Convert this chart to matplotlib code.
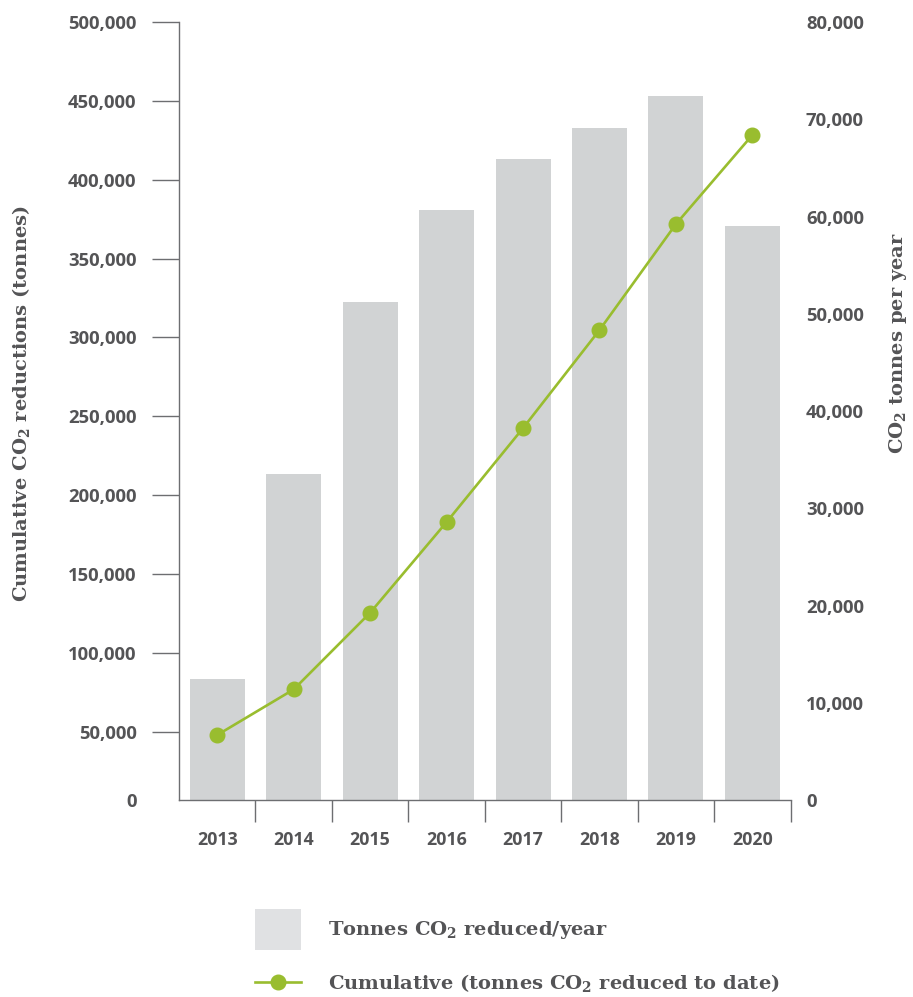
import numpy as np
import matplotlib
matplotlib.use("Agg")
import matplotlib.pyplot as plt
from matplotlib.patches import Patch
from matplotlib.lines import Line2D

# yearly reductions (right axis) and running total (left axis)
years = ["2013", "2014", "2015", "2016", "2017", "2018", "2019", "2020"]
annual_tonnes = [12440, 33570, 51210, 60670, 65960, 69070, 72390, 59050]
cumulative_tonnes = [47900, 76800, 125400, 182900, 242500, 304700, 371900, 428400]

left_ticks = [0, 50000, 100000, 150000, 200000, 250000, 300000, 350000, 400000, 450000, 500000]
right_ticks = [0, 10000, 20000, 30000, 40000, 50000, 60000, 70000, 80000]
left_floor = 6700  # baseline of the cumulative scale sits a little above zero

bar_grey = "#d1d3d4"
legend_grey = "#e0e1e3"
green = "#99bd2f"
text_grey = "#545456"
axis_grey = "#6d6e71"

plt.rcParams["mathtext.default"] = "regular"
tick_font = dict(family="Open Sans", weight="bold", size=13.3)
label_font = dict(family="DejaVu Serif", weight="bold", size=14)

fig = plt.figure(figsize=(9.13, 9.97), dpi=100)
ax = fig.add_axes([0.196, 0.1976, 0.670, 0.7803])
ax2 = ax.twinx()

x = np.arange(len(years))
ax2.bar(x, annual_tonnes, width=0.72, color=bar_grey)
ax.plot(x, cumulative_tonnes, color=green, lw=1.9, marker="o", ms=10.5)

# line above the bars
ax.set_zorder(ax2.get_zorder() + 1)
ax.patch.set_visible(False)

ax.set_xlim(-0.5, 7.5)
ax.set_ylim(left_floor, 500000)
ax2.set_ylim(0, 80000)

ax.set_yticks([left_floor] + left_ticks[1:])
ax.set_yticklabels([f"{v:,}" for v in left_ticks], fontdict=tick_font, color=text_grey)
ax.tick_params(axis="y", length=19.5, width=1, color=axis_grey, pad=11)
ax.yaxis.get_major_ticks()[0].tick1line.set_visible(False)

ax2.set_yticks(right_ticks)
ax2.set_yticklabels([f"{v:,}" for v in right_ticks], fontdict=tick_font, color=text_grey)
ax2.tick_params(axis="y", length=0, pad=11)

ax.set_xticks(x)
ax.set_xticklabels(years, fontdict=dict(tick_font, size=12.8), color=text_grey)
ax.set_xticks(np.arange(0.5, 8, 1), minor=True)
ax.tick_params(axis="x", which="major", length=0, pad=22)
ax.tick_params(axis="x", which="minor", length=16, width=1, color=axis_grey)

for side in ["top", "right"]:
    ax.spines[side].set_visible(False)
for side in ["left", "bottom"]:
    ax.spines[side].set_color(axis_grey)
    ax.spines[side].set_linewidth(1)
for spine in ax2.spines.values():
    spine.set_visible(False)

ax.set_ylabel(r"Cumulative CO$_2$ reductions (tonnes)", fontdict=label_font, color=text_grey)
ax.yaxis.set_label_coords(-0.240, 0.509)
ax2.set_ylabel(r"CO$_2$ tonnes per year", fontdict=label_font, color=text_grey)
ax2.yaxis.set_label_coords(1.157, 0.587)

# two single-entry legends so the tall swatch and the line get their own heights
legend_kw = dict(frameon=False, borderpad=0, borderaxespad=0, handlelength=2.4,
                 handletextpad=1.35, labelcolor=text_grey, prop=label_font)
fig.legend([Patch(facecolor=legend_grey, edgecolor="none")],
           [r"Tonnes CO$_2$ reduced/year"],
           loc="upper left", bbox_to_anchor=(0.279, 0.0885),
           handleheight=2.87, **legend_kw)
fig.legend([Line2D([], [], color=green, lw=1.9, marker="o", ms=10.5)],
           [r"Cumulative (tonnes CO$_2$ reduced to date)"],
           loc="center left", bbox_to_anchor=(0.279, 0.014),
           handleheight=0.7, **legend_kw)

fig.savefig("out.png", dpi=100)
